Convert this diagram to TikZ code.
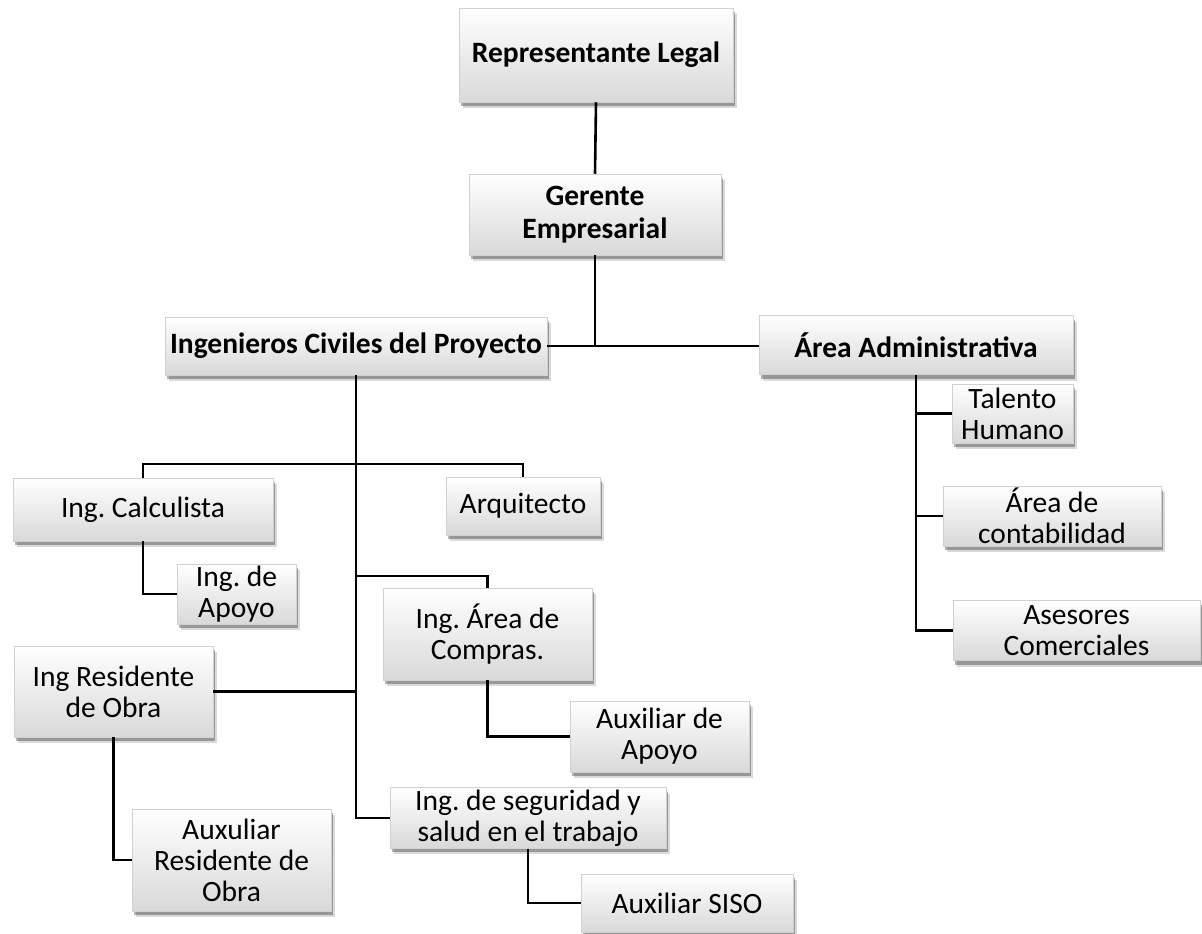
\documentclass[tikz,border=0pt]{standalone}
\usepackage{fontspec}
\setmainfont{Carlito}
\frenchspacing
\usetikzlibrary{shadows}
\begin{document}
\begin{tikzpicture}[x=1pt,y=-1pt,
  box/.style={rectangle, draw=black!18, line width=0.5pt, shading=axis, top color=white, bottom color=black!15,
    align=center, inner sep=2pt, font=\fontsize{29.5}{31}\selectfont, text=black,
    drop shadow={shadow xshift=4pt, shadow yshift=-6pt, opacity=0.15, fill=black},
    drop shadow={shadow xshift=2pt, shadow yshift=-4pt, opacity=0.3, fill=black}},
  bbox/.style={box, font=\fontsize{29.5}{33}\selectfont\bfseries},
  conn/.style={draw=black, line width=2.6pt}]
\useasboundingbox[fill=white] (0,0) rectangle (1202,934);
% top
\node[bbox, minimum width=274pt, minimum height=94pt] (rep) at (596,55) {Representante Legal};
\node[bbox, minimum width=252pt, minimum height=81pt] (ger) at (595,214.5) {Gerente\\Empresarial};
\node[bbox, minimum width=382pt, minimum height=58pt] (ing) at (356,346) {Ingenieros Civiles del Proyecto};
\node[bbox, minimum width=314pt, minimum height=59pt] (adm) at (916,345) {Área Administrativa};
% admin side
\node[box, minimum width=121pt, minimum height=59pt] (tal) at (1012.5,413.5) {Talento\\Humano};
\node[box, minimum width=218pt, minimum height=60pt] (con) at (1052,516) {Área de\\contabilidad};
\node[box, minimum width=247pt, minimum height=60pt] (ase) at (1076.5,630.5) {Asesores\\Comerciales};
% engineering side
\node[box, minimum width=260pt, minimum height=63pt] (cal) at (143,509.5) {Ing. Calculista};
\node[box, minimum width=154pt, minimum height=58pt] (arq) at (523,506) {Arquitecto};
\node[box, minimum width=119pt, minimum height=60pt] (apo) at (236.5,594) {Ing. de\\Apoyo};
\node[box, minimum width=209pt, minimum height=92pt] (com) at (487.5,634) {Ing. Área de\\Compras.};
\node[box, minimum width=199pt, minimum height=91pt] (res) at (113.5,691.5) {Ing Residente\\de Obra};
\node[box, minimum width=179pt, minimum height=71pt] (aux) at (659.5,736.5) {Auxiliar de\\Apoyo};
\node[box, minimum width=199pt, minimum height=102pt] (sau) at (231.5,860) {Auxuliar\\Residente de\\Obra};
\node[box, minimum width=276pt, minimum height=60pt] (seg) at (528,818) {Ing. de seguridad y\\salud en el trabajo};
\node[box, minimum width=212pt, minimum height=58pt] (sis) at (687,903) {Auxiliar SISO};
% connectors
\coordinate (b1) at (356,464);
\coordinate (b2) at (356,576);
\draw[conn] (rep.south) -- (ger.north);
\draw[conn] (ing.east) -- (adm.west |- ing.east);
\draw[conn] (ger.south) -- (ger.south |- ing.east);
\draw[conn] (ing.south) |- (seg.west);
\draw[conn] (cal.north) |- (b1) -| (arq.north);
\draw[conn] (b2) -| (com.north);
\draw[conn] (res.east) -- (res.east -| b1);
\draw[conn] (cal.south) |- (apo.west);
\draw[conn] (com.south) |- (aux.west);
\draw[conn] (res.south) |- (sau.west);
\draw[conn] (seg.south) |- (sis.west);
\draw[conn] (adm.south) |- (tal.west);
\draw[conn] (adm.south) |- (con.west);
\draw[conn] (adm.south) |- (ase.west);
\end{tikzpicture}
\end{document}
